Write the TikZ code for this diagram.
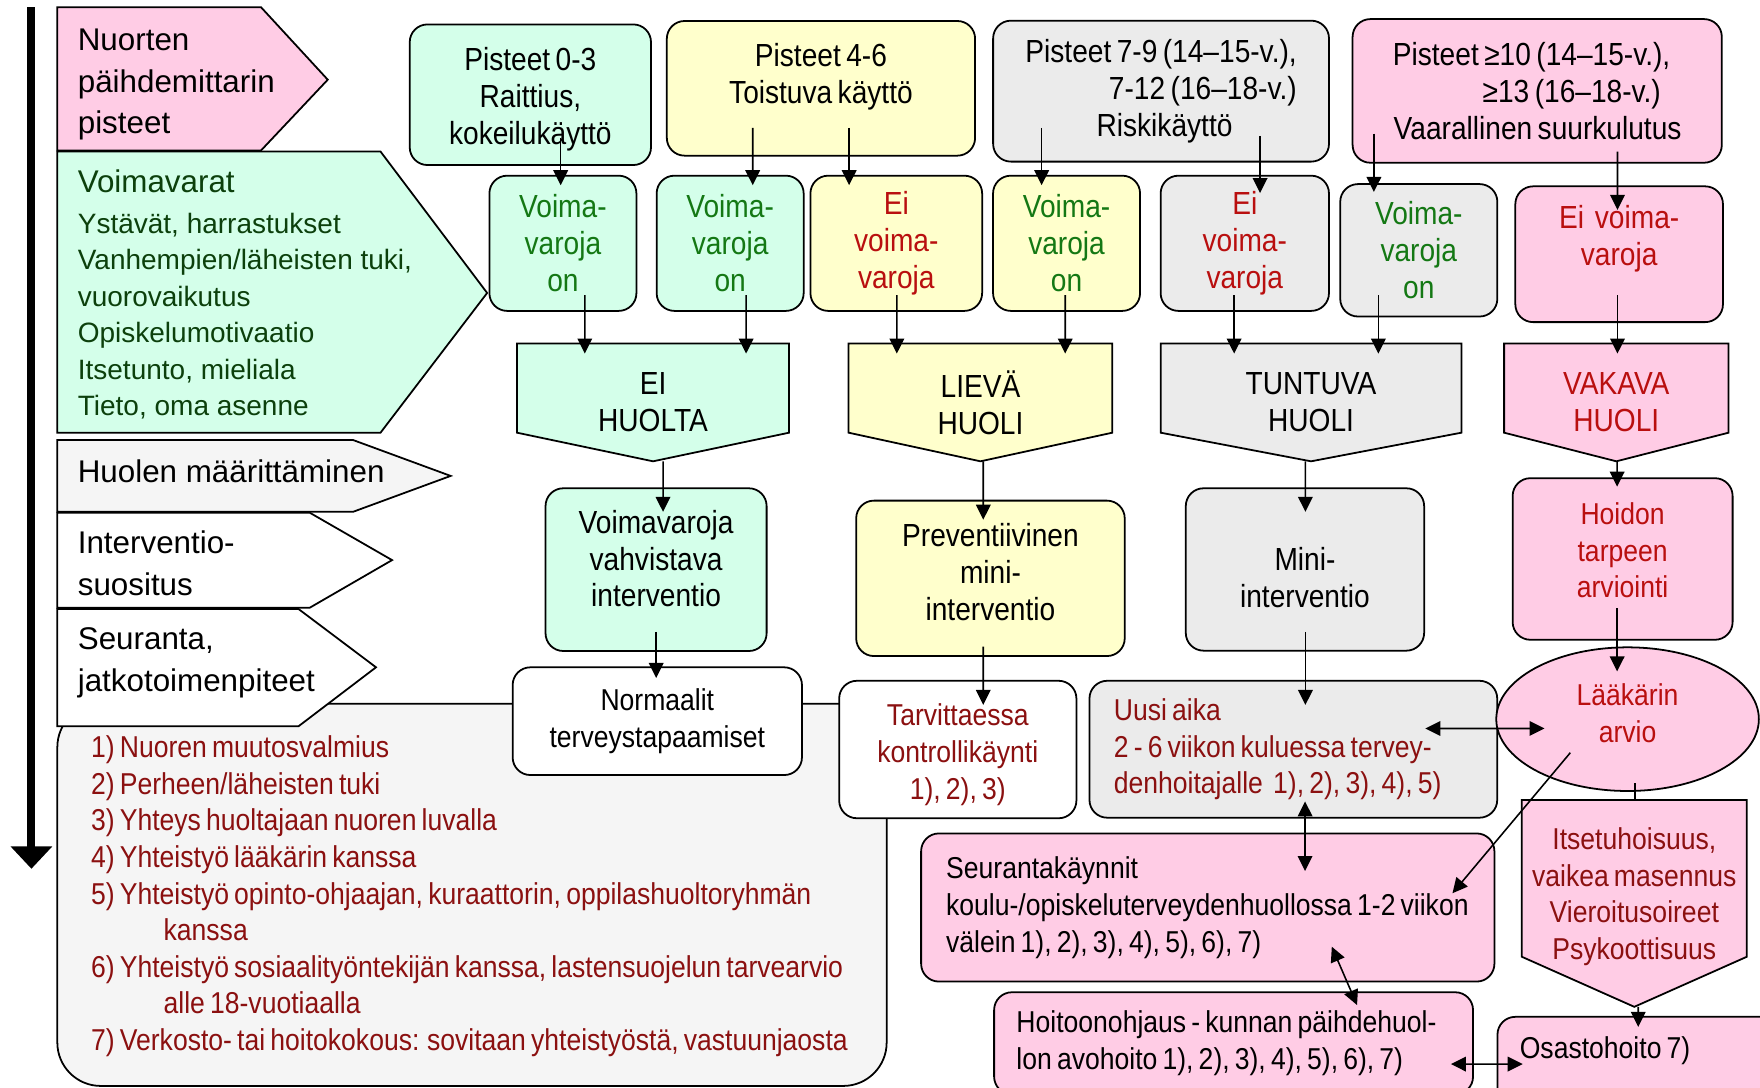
\documentclass[tikz,border=0pt]{standalone}
\usepackage{fontspec}
\setmainfont{Liberation Sans}
\newfontfamily\narrowfont{Liberation Sans}[FakeStretch=0.88, WordSpace=0.7]
\usepackage{xcolor}
\usepackage{tikz}
\usetikzlibrary{shapes.geometric, arrows.meta, calc, backgrounds}
\definecolor{pinkfill}{RGB}{255, 204, 229}
\definecolor{mintfill}{RGB}{212, 255, 234}
\definecolor{lemonfill}{RGB}{255, 255, 204}
\definecolor{greyfill}{RGB}{235, 235, 235}
\definecolor{notegrey}{RGB}{245, 245, 245}
\definecolor{textgreen}{RGB}{20, 120, 20}
\definecolor{textdarkgreen}{RGB}{12, 64, 12}
\definecolor{textred}{RGB}{185, 15, 15}
\definecolor{textdarkred}{RGB}{139, 16, 16}

\begin{document}
\begin{tikzpicture}[
    x=0.02cm, y=-0.02cm,
    legendshape/.style={draw, line width=0.9pt},
    legendtext/.style={anchor=west, inner sep=0pt, align=left,
                       font=\fontsize{15.9pt}{21pt}\selectfont},
    notebox/.style={rectangle, draw, fill=notegrey, line width=0.9pt,
                    rounded corners=22pt, minimum width=14.78cm, minimum height=6.81cm},
    notetext/.style={anchor=west, inner sep=0pt, align=left, text=textdarkred,
                     font=\narrowfont\fontsize{15.3pt}{18.54pt}\selectfont},
    flowbox/.style={rectangle, draw, line width=0.9pt, rounded corners=9pt,
                    inner sep=1pt, outer sep=0pt, align=center,
                    font=\narrowfont\fontsize{16.2pt}{18.7pt}\selectfont},
    finetext/.style={font=\narrowfont\fontsize{15.3pt}{18.7pt}\selectfont},
    leftbox/.style={flowbox, finetext, align=flush left},
    concern/.style={rectangle, inner sep=1pt, outer sep=0pt, align=center,
                    minimum height=2.10cm,
                    font=\narrowfont\fontsize{16.2pt}{18.7pt}\selectfont},
    oval/.style={ellipse, draw, line width=0.9pt, inner sep=0pt, outer sep=0pt,
                 align=center, finetext},
    pentagon/.style={draw, line width=0.9pt},
    arrow/.style={-{Triangle[length=7.6pt, width=7.4pt]}, line width=0.8pt},
    twoway/.style={{Triangle[length=7.6pt, width=7.4pt]}-{Triangle[length=7.6pt, width=7.4pt]},
                   line width=0.8pt},
    timeline/.style={-{Triangle[length=11.3pt, width=20.4pt]}, line width=4pt}
]
    \useasboundingbox (0,0) rectangle (1568,969);

    % Time line
    \coordinate (tltop) at (28,6.5);
    \coordinate (tlend) at (28,774);
    \draw[timeline] (tltop) -- (tlend);

    % Notes box
    \node[notebox] (notes) at (420.5,797.25) {};
    \node[notetext] (notelist) at (80.8,798.5) {1) Nuoren muutosvalmius\\
        2) Perheen/läheisten tuki\\
        3) Yhteys huoltajaan nuoren luvalla\\
        4) Yhteistyö lääkärin kanssa\\
        5) Yhteistyö opinto-ohjaajan, kuraattorin, oppilashuoltoryhmän\\
        \hspace*{36.8pt}kanssa\\
        6) Yhteistyö sosiaalityöntekijän kanssa, lastensuojelun tarvearvio\\
        \hspace*{36.8pt}alle 18-vuotiaalla\\
        7) Verkosto- tai hoitokokous: sovitaan yhteistyöstä, vastuunjaosta};

    % Left column
    \draw[legendshape, fill=pinkfill] (51,6.5) -- (232.6,6.5) -- (292,71) -- (232.6,134) -- (51,134) -- cycle;
    \draw[legendshape, fill=mintfill] (51,135) -- (339,135) -- (434,261) -- (339,385.5) -- (51,385.5) -- cycle;
    \draw[legendshape, fill=notegrey] (51,392) -- (314.5,392) -- (401.5,424) -- (314.5,456) -- (51,456) -- cycle;
    \draw[legendshape, fill=white] (51,456.8) -- (276,456.8) -- (349.3,499) -- (276,541.4) -- (51,541.4) -- cycle;
    \draw[legendshape, fill=white] (51,542.6) -- (266,542.6) -- (335,594.5) -- (266,647) -- (51,647) -- cycle;
    \node[legendtext] (nuorten) at (69,75.5) {Nuorten\\päihdemittarin\\pisteet};
    \node[legendtext, text=textdarkgreen, font=\fontsize{14.2pt}{18.5pt}\selectfont] (voimavarat) at (69,262.5)
        {{\fontsize{15.9pt}{18.5pt}\selectfont Voimavarat}\\[1.9pt]Ystävät, harrastukset\\Vanhempien/läheisten tuki,\\
         vuorovaikutus\\Opiskelumotivaatio\\Itsetunto, mieliala\\Tieto, oma asenne};
    \node[legendtext] (huolen) at (69,420) {Huolen määrittäminen};
    \node[legendtext] (interventio) at (69,502) {Interventio-\\suositus};
    \node[legendtext] (seuranta) at (69,590.5) {Seuranta,\\jatkotoimenpiteet};

    % Score boxes
    \node[flowbox, fill=mintfill, minimum width=4.30cm, minimum height=2.506cm] (p03) at (472.5,84.4)
        {\mbox{}\\[-2.5pt]Pisteet 0-3\\Raittius,\\kokeilukäyttö};
    \node[flowbox, fill=lemonfill, minimum width=5.494cm, minimum height=2.40cm] (p46) at (731.4,78.7)
        {Pisteet 4-6\\Toistuva käyttö\\[-4pt]\mbox{}};
    \node[flowbox, fill=greyfill, align=right, minimum width=5.986cm, minimum height=2.512cm] (p79) at (1034.4,81.2)
        {Pisteet 7-9 (14–15-v.),\\7-12 (16–18-v.)\\Riskikäyttö\kern32.6pt};
    \node[flowbox, fill=pinkfill, align=right, minimum width=6.58cm, minimum height=2.56cm] (p10) at (1369.5,81)
        {Pisteet ≥10 (14–15-v.),\kern5.7pt\\≥13 (16–18-v.)\kern10.5pt\\Vaarallinen suurkulutus};

    % Resource boxes
    \node[flowbox, fill=mintfill, text=textgreen, minimum width=2.62cm, minimum height=2.41cm] (v1) at (501.5,216.75)
        {Voima-\\varoja\\on};
    \node[flowbox, fill=mintfill, text=textgreen, minimum width=2.62cm, minimum height=2.41cm] (v2) at (650.5,216.75)
        {Voima-\\varoja\\on};
    \node[flowbox, fill=lemonfill, text=textred, minimum width=3.06cm, minimum height=2.41cm] (v3) at (798.5,216.75)
        {Ei\\voima-\\varoja};
    \node[flowbox, fill=lemonfill, text=textgreen, minimum width=2.62cm, minimum height=2.41cm] (v4) at (950.2,216.75)
        {Voima-\\varoja\\on};
    \node[flowbox, fill=greyfill, text=textred, minimum width=3.00cm, minimum height=2.41cm] (v5) at (1109,216.75)
        {Ei\\voima-\\varoja};
    \node[flowbox, fill=greyfill, text=textgreen, minimum width=2.80cm, minimum height=2.36cm] (v6) at (1264,223)
        {Voima-\\varoja\\on};
    \node[flowbox, fill=pinkfill, text=textred, minimum width=3.70cm, minimum height=2.42cm] (v7) at (1442.5,226.5)
        {Ei\ \ voima-\\varoja\\\mbox{}};

    % Concern levels
    \node[concern, minimum width=4.848cm] (h1) at (581.8,358.5) {EI\\HUOLTA};
    \node[concern, minimum width=4.70cm] (h2) at (873.5,358.5) {LIEVÄ\\HUOLI};
    \node[concern, minimum width=5.36cm] (h3) at (1168,358.5) {TUNTUVA\\HUOLI};
    \node[concern, text=textred, minimum width=4.00cm] (h4) at (1440,358.5) {VAKAVA\\HUOLI};

    % Interventions
    \node[flowbox, fill=mintfill, minimum width=3.94cm, minimum height=2.90cm] (i1) at (584.5,507.5)
        {Voimavaroja\\vahvistava\\interventio\\[-7.4pt]\mbox{}};
    \node[flowbox, fill=lemonfill, minimum width=4.786cm, minimum height=2.77cm] (i2) at (882.4,515.25)
        {Preventiivinen\\mini-\\interventio\\[-11.9pt]\mbox{}};
    \node[flowbox, fill=greyfill, minimum width=4.248cm, minimum height=2.894cm] (i3) at (1162.6,507.35)
        {\mbox{}\\[0.9pt]Mini-\\interventio};
    \node[flowbox, finetext, fill=pinkfill, text=textred, minimum width=3.92cm, minimum height=2.88cm] (i4) at (1445.6,498)
        {Hoidon\\tarpeen\\arviointi\\[-9.7pt]\mbox{}};

    % Follow-up
    \node[flowbox, finetext, fill=white, minimum width=5.156cm, minimum height=1.92cm] (n1) at (585.6,642.5)
        {Normaalit\\terveystapaamiset};
    \node[flowbox, finetext, fill=white, text=textdarkred, minimum width=4.228cm, minimum height=2.45cm] (n2) at (853.3,667.75)
        {\mbox{}\\[-2.1pt]Tarvittaessa\\kontrollikäynti\\1), 2), 3)};
    \node[leftbox, fill=greyfill, text=textdarkred, text width=6.398cm, inner xsep=12.36pt, minimum height=2.44cm] (n3) at (1152.25,667.5)
        {Uusi aika\\\mbox{2 - 6 viikon kuluessa tervey-}\\\mbox{denhoitajalle\ \ 1), 2), 3), 4), 5)}};
    \node[oval, fill=pinkfill, text=textred, minimum width=4.68cm, minimum height=2.56cm] (ell) at (1450,640.7)
        {Lääkärin\\arvio\\[-12.7pt]\mbox{}};
    \node[leftbox, fill=pinkfill, text width=9.324cm, inner xsep=12.7pt, minimum height=2.64cm] (s1) at (1076,808.5)
        {Seurantakäynnit\\\mbox{koulu-/opiskeluterveydenhuollossa 1-2 viikon}\\välein 1), 2), 3), 4), 5), 6), 7)};
    \node[concern, finetext, text=textdarkred, minimum width=4.01cm, minimum height=3.684cm] (pt) at (1456,804.9)
        {Itsetuhoisuus,\\vaikea masennus\\Vieroitusoireet\\Psykoottisuus\\[-8.7pt]\mbox{}};
    \node[leftbox, fill=pinkfill, text width=7.738cm, inner xsep=11.34pt, minimum height=1.82cm] (ho) at (1099,929.5)
        {\mbox{Hoitoonohjaus - kunnan päihdehuol-}\\\mbox{lon avohoito 1), 2), 3), 4), 5), 6), 7)}};
    \node[leftbox, fill=pinkfill, text width=4.32cm, inner xsep=11.34pt, minimum height=1.684cm] (os) at (1462,948)
        {\raisebox{17pt}{Osastohoito 7)}};

    % Pentagon outlines
    \begin{scope}[on background layer]
        \draw[pentagon, fill=mintfill] (h1.north west) -- (h1.north east) -- ($(h1.south east)+(0,-25.5)$)
            -- (h1.south) -- ($(h1.south west)+(0,-25.5)$) -- cycle;
        \draw[pentagon, fill=lemonfill] (h2.north west) -- (h2.north east) -- ($(h2.south east)+(0,-25.5)$)
            -- (h2.south) -- ($(h2.south west)+(0,-25.5)$) -- cycle;
        \draw[pentagon, fill=greyfill] (h3.north west) -- (h3.north east) -- ($(h3.south east)+(0,-25.5)$)
            -- (h3.south) -- ($(h3.south west)+(0,-25.5)$) -- cycle;
        \draw[pentagon, fill=pinkfill] (h4.north west) -- (h4.north east) -- ($(h4.south east)+(0,-25.5)$)
            -- (h4.south) -- ($(h4.south west)+(0,-25.5)$) -- cycle;
        \draw[pentagon, fill=pinkfill] (pt.north west) -- (pt.north east) -- ($(pt.south east)+(0,-44.6)$)
            -- (pt.south) -- ($(pt.south west)+(0,-44.6)$) -- cycle;
    \end{scope}

    % Arrows
    \draw[arrow] ($(p03.south)+(27,-24)$) -- ($(v1.north)+(-2,8.5)$);
    \draw[arrow] ($(p46.south)+(-60.8,-24.7)$) -- ($(v2.north)+(20.1,8.5)$);
    \draw[arrow] ($(p46.south)+(25.1,-24.7)$) -- ($(v3.north)+(-42,8.5)$);
    \draw[arrow] ($(p79.south)+(-106.4,-30)$) -- ($(v4.north)+(-22.2,8.5)$);
    \draw[arrow] ($(p79.south)+(88.2,-23)$) -- ($(v5.north)+(13.6,15.5)$);
    \draw[arrow] ($(p10.south)+(-145.5,-26)$) -- ($(v6.north)+(-40,7)$);
    \draw[arrow] ($(p10.south)+(71.5,-10)$) -- ($(v7.north)+(-1.5,21)$);
    \draw[arrow] ($(v1.south)+(19.5,-14)$) -- ($(h1.north)+(-60.8,9)$);
    \draw[arrow] ($(v2.south)+(14.2,-14)$) -- ($(h1.north)+(82.9,9)$);
    \draw[arrow] ($(v3.south)+(0.5,-14)$) -- ($(h2.north)+(-74.5,9)$);
    \draw[arrow] ($(v4.south)+(-1.2,-14)$) -- ($(h2.north)+(75.5,9)$);
    \draw[arrow] ($(v5.south)+(-9.5,-14)$) -- ($(h3.north)+(-68.5,9)$);
    \draw[arrow] ($(v6.south)+(-36,-19)$) -- ($(h3.north)+(60,9)$);
    \draw[arrow] ($(v7.south)+(-1.5,-24)$) -- ($(h4.north)+(1,9)$);
    \draw[arrow] ($(h1.south)+(8.9,0)$) -- ($(i1.north)+(6.2,21)$);
    \draw[arrow] ($(h2.south)+(2.5,0)$) -- ($(i2.north)+(-6.4,17)$);
    \draw[arrow] ($(h3.south)+(-5,0)$) -- ($(i3.north)+(0.4,21)$);
    \draw[arrow] ($(h4.south)+(0.7,0)$) -- ($(i4.north)+(-4.9,7.6)$);
    \draw[arrow] ($(i1.south)+(0.1,-17)$) -- ($(n1.north)+(-1,9.5)$);
    \draw[arrow] ($(i2.south)+(-6.4,-8.5)$) -- ($(n2.north)+(22.7,21.5)$);
    \draw[arrow] ($(i3.south)+(0.4,-16.7)$) -- ($(n3.north)+(10.75,21.5)$);
    \draw[arrow] ($(i4.south)+(-4.9,-28)$) -- ($(ell.north)+(-9.3,21.5)$);
    \draw[twoway] ($(n3.east)+(-64,-18.5)$) -- ($(ell)+(-74,8.3)$);
    \draw[twoway] ($(n3.south)+(10.45,-14.5)$) -- ($(s1.north)+(86.7,33.5)$);
    \draw[arrow] ($(ell)+(-51,29.9)$) -- ($(s1)+(218,-12.7)$);
    \draw[line width=0.8pt] ($(ell.south)+(6.7,-7)$) -- ($(pt.north)+(0.7,0)$);
    \draw[arrow] ($(pt.south)+(3.5,0)$) -- ($(os.north)+(-2.5,8.9)$);
    \draw[twoway] ($(s1)+(110.5,34.9)$) -- ($(ho)+(110,-34.1)$);
    \draw[twoway] ($(ho.east)+(-19.7,18.5)$) -- ($(os.west)+(22.5,0)$);

\end{tikzpicture}
\end{document}
